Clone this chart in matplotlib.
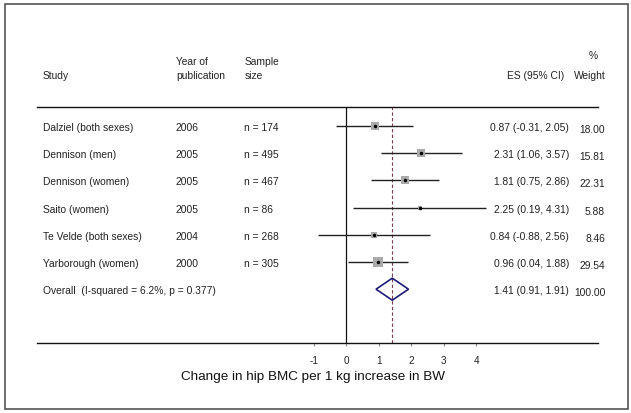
import matplotlib
matplotlib.use("Agg")
import matplotlib.pyplot as plt
from matplotlib.patches import Polygon, Rectangle
from matplotlib.transforms import blended_transform_factory
import numpy as np

plt.rcParams['font.family'] = ['Liberation Sans', 'DejaVu Sans']

studies = ["Dalziel (both sexes)", "Dennison (men)", "Dennison (women)",
           "Saito (women)", "Te Velde (both sexes)", "Yarborough (women)"]
years = ["2006", "2005", "2005", "2005", "2004", "2000"]
samples = ["n = 174", "n = 495", "n = 467", "n = 86", "n = 268", "n = 305"]
es = [0.87, 2.31, 1.81, 2.25, 0.84, 0.96]
lo = [-0.31, 1.06, 0.75, 0.19, -0.88, 0.04]
hi = [2.05, 3.57, 2.86, 4.31, 2.56, 1.88]
weights = [18.00, 15.81, 22.31, 5.88, 8.46, 29.54]
overall_label = "Overall  (I-squared = 6.2%, p = 0.377)"
overall_es, overall_lo, overall_hi, overall_w = 1.41, 0.91, 1.91, 100.00
xticks = [-1, 0, 1, 2, 3, 4]
xlabel = "Change in hip BMC per 1 kg increase in BW"

W, H = 631, 413
fig = plt.figure(figsize=(W / 100, H / 100), dpi=100)

# axes box in pixels
x0p, x1p = 37, 598
ytop, ybot = 106.5, 343.3
ax = fig.add_axes([x0p / W, (H - ybot) / H, (x1p - x0p) / W, (ybot - ytop) / H])
zero_px, unit_px = 346.5, 32.46
ax.set_xlim((x0p - zero_px) / unit_px, (x1p - zero_px) / unit_px)
row0_px, row_px = 126.0, 27.2
ax.set_ylim((ybot - row0_px) / row_px, (ytop - row0_px) / row_px)

for s in ['left', 'right']:
    ax.spines[s].set_visible(False)
for s in ['top', 'bottom']:
    ax.spines[s].set_color('#111111')
    ax.spines[s].set_linewidth(1.0)
ax.set_yticks([])
ax.set_xticks(xticks)
ax.set_xticklabels([str(t) for t in xticks], fontsize=7.2, color='#222222')
ax.tick_params(axis='x', direction='out', length=2.5, width=0.8, color='#888888', pad=7)

ax.axvline(0, color='#111111', lw=0.9)
ax.axvline(overall_es, color='#7d3b55', lw=0.8, dashes=(3, 2))

rows = np.arange(len(studies))
maxw = max(weights)
for i in rows:
    ax.plot([lo[i], hi[i]], [i, i], color='#222222', lw=1.0, solid_capstyle='butt', zorder=2)
    side_px = 10 * np.sqrt(weights[i] / maxw)
    ax.plot(es[i], i, marker='s', markersize=side_px * 0.72, color='#aaaaaa',
            markeredgewidth=0, zorder=3)
    ax.plot(es[i], i, marker='o', markersize=2.5, color='black', markeredgewidth=0, zorder=4)

yo = len(studies)
hh = 11 / row_px
diamond = Polygon([(overall_lo, yo), (overall_es, yo - hh), (overall_hi, yo), (overall_es, yo + hh)],
                  closed=True, fill=False, edgecolor='#1c1c78', lw=1.2, zorder=4)
ax.add_patch(diamond)

tr = blended_transform_factory(fig.transFigure, ax.transData)
fs = 7.4
tc = '#222222'
for i in rows:
    yt = i + 0.07
    ax.text(43 / W, yt, studies[i], transform=tr, fontsize=fs, color=tc, va='center', ha='left', clip_on=False)
    ax.text(176 / W, yt, years[i], transform=tr, fontsize=fs, color=tc, va='center', ha='left', clip_on=False)
    ax.text(244 / W, yt, samples[i], transform=tr, fontsize=fs, color=tc, va='center', ha='left', clip_on=False)
    ax.text(569 / W, yt, f"{es[i]:.2f} ({lo[i]:.2f}, {hi[i]:.2f})", transform=tr, fontsize=fs, color=tc,
            va='center', ha='right', clip_on=False)
    ax.text(605 / W, yt + 0.08, f"{weights[i]:.2f}", transform=tr, fontsize=fs, color=tc,
            va='center', ha='right', clip_on=False)
ax.text(43 / W, yo + 0.07, overall_label, transform=tr, fontsize=fs, color=tc, va='center', ha='left', clip_on=False)
ax.text(569 / W, yo + 0.07, f"{overall_es:.2f} ({overall_lo:.2f}, {overall_hi:.2f})", transform=tr,
        fontsize=fs, color=tc, va='center', ha='right', clip_on=False)
ax.text(606 / W, yo + 0.15, f"{overall_w:.2f}", transform=tr, fontsize=fs, color=tc,
        va='center', ha='right', clip_on=False)

# headers (pixel rows converted to data rows)
def prow(p):
    return (p - row0_px) / row_px

ax.text(43 / W, prow(76), "Study", transform=tr, fontsize=fs, color=tc, va='center', ha='left', clip_on=False)
ax.text(176 / W, prow(62), "Year of", transform=tr, fontsize=fs, color=tc, va='center', ha='left', clip_on=False)
ax.text(176 / W, prow(76), "publication", transform=tr, fontsize=fs, color=tc, va='center', ha='left', clip_on=False)
ax.text(245 / W, prow(62), "Sample", transform=tr, fontsize=fs, color=tc, va='center', ha='left', clip_on=False)
ax.text(245 / W, prow(76), "size", transform=tr, fontsize=fs, color=tc, va='center', ha='left', clip_on=False)
ax.text(564 / W, prow(76), "ES (95% CI)", transform=tr, fontsize=fs, color=tc, va='center', ha='right', clip_on=False)
ax.text(593 / W, prow(56), "%", transform=tr, fontsize=fs, color=tc, va='center', ha='center', clip_on=False)
ax.text(606 / W, prow(76), "Weight", transform=tr, fontsize=fs, color=tc, va='center', ha='right', clip_on=False)

fig.text(313 / W, 1 - 377 / H, xlabel, fontsize=9.7, color='#111111', ha='center', va='center')

fig.patches.append(Rectangle((4.5 / W, (H - 409) / H), (628 - 4.5) / W, (409 - 4) / H,
                             transform=fig.transFigure, fill=False, edgecolor='#555555', lw=1.2))

fig.savefig("out.png", dpi=100)
